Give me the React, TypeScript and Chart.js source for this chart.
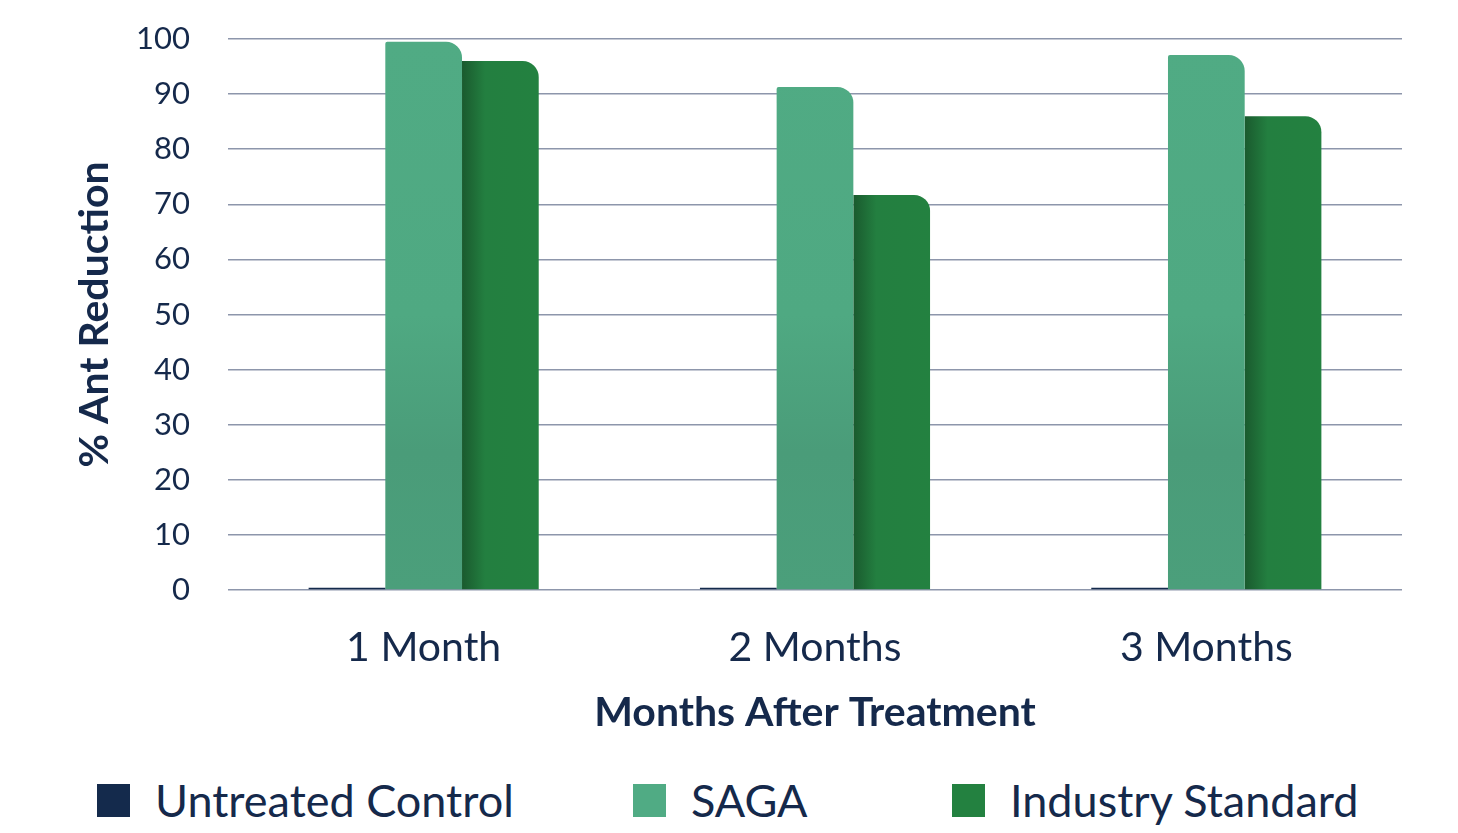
import React, { useEffect, useRef } from 'react';
import { Chart, registerables } from 'chart.js';

Chart.register(...registerables);

const categories = ['1 Month', '2 Months', '3 Months'];
const seriesNames = ['Untreated Control', 'SAGA', 'Industry Standard'];
const untreatedValues = [0.4, 0.4, 0.4];
const sagaValues = [99.5, 91.3, 97.1];
const industryValues = [96.0, 71.7, 86.0];

const FONT = 'Lato, "Noto Sans", sans-serif';
const TEXT = '#15294b';
const COLORS = ['#142a4c', '#50ab84', '#238140'];
const CAT_PCT = 0.588;

// horizontal shade for industry bars: darker at left edge
function industryFill(ctx: any) {
  const chart = ctx.chart;
  const x = chart.scales.x;
  if (!x || ctx.dataIndex === undefined || !chart.chartArea) return COLORS[2];
  const catW = x.width / categories.length;
  const barW = (catW * CAT_PCT) / 3;
  const center = x.getPixelForValue(ctx.dataIndex);
  const left = center - (catW * CAT_PCT) / 2 + 2 * barW;
  const g = chart.ctx.createLinearGradient(left, 0, left + barW, 0);
  g.addColorStop(0, '#1a5a2e');
  g.addColorStop(0.3, '#237f40');
  g.addColorStop(1, '#238140');
  return g;
}

function sagaFill(ctx: any) {
  const area = ctx.chart.chartArea;
  if (!area) return COLORS[1];
  const g = ctx.chart.ctx.createLinearGradient(0, area.top, 0, area.bottom);
  g.addColorStop(0, '#50ab84');
  g.addColorStop(0.5, '#4fa982');
  g.addColorStop(0.75, '#4a9c79');
  g.addColorStop(1, '#4b9f7b');
  return g;
}

// legend item left edges (px)
const legendLefts = [97, 633, 952];

export default function App() {
  const canvasRef = useRef<HTMLCanvasElement>(null);

  useEffect(() => {
    if (!canvasRef.current) return;
    const chart = new Chart(canvasRef.current, {
      type: 'bar',
      data: {
        labels: categories,
        datasets: [
          {
            label: seriesNames[0],
            data: untreatedValues,
            backgroundColor: COLORS[0],
          },
          {
            label: seriesNames[1],
            data: sagaValues,
            backgroundColor: sagaFill,
            borderRadius: { topLeft: 2, topRight: 16, bottomLeft: 0, bottomRight: 0 },
            borderSkipped: false,
          },
          {
            label: seriesNames[2],
            data: industryValues,
            backgroundColor: industryFill,
            borderRadius: { topLeft: 0, topRight: 16, bottomLeft: 0, bottomRight: 0 },
            borderSkipped: false,
          },
        ],
      },
      options: {
        animation: false,
        responsive: true,
        maintainAspectRatio: false,
        datasets: {
          bar: { categoryPercentage: CAT_PCT, barPercentage: 1 },
        },
        layout: { padding: { top: 0, right: 56, left: 0, bottom: 0 } },
        scales: {
          x: {
            grid: { display: false, drawTicks: false },
            border: { display: false },
            ticks: {
              color: TEXT,
              font: { family: FONT, size: 41 },
              padding: 33,
            },
            title: {
              display: true,
              text: 'Months After Treatment',
              color: TEXT,
              font: { family: FONT, size: 41, weight: 'bold' },
              padding: { top: 10, bottom: 23 },
            },
            afterFit: (s: any) => {
              s.height = 170;
            },
          },
          y: {
            min: 0,
            max: 100,
            ticks: {
              stepSize: 10,
              autoSkip: false,
              color: TEXT,
              font: { family: FONT, size: 31 },
              padding: 38,
            },
            grid: { color: '#8d96ab', lineWidth: 1.5, drawTicks: false },
            border: { display: false },
            title: {
              display: true,
              text: '% Ant Reduction',
              color: TEXT,
              font: { family: FONT, size: 41, weight: 'bold' },
              padding: { top: 70, bottom: 0 },
            },
            afterFit: (s: any) => {
              s.width = 228;
              s.paddingTop = 39;
            },
          },
        },
        plugins: {
          legend: { display: false },
          tooltip: { enabled: false },
        },
      },
    });
    return () => chart.destroy();
  }, []);

  return (
    <div style={{ position: 'fixed', left: 0, top: 0, width: 1458, height: 833, background: '#ffffff' }}>
      <div style={{ position: 'relative', width: 1458, height: 760 }}>
        <canvas ref={canvasRef}></canvas>
      </div>
      <div style={{ position: 'relative', width: 1458, height: 73, fontFamily: FONT, fontSize: 45, color: TEXT }}>
        {seriesNames.map((name, i) => (
          <div
            key={name}
            style={{ position: 'absolute', left: legendLefts[i], top: 10, height: 60, display: 'flex', alignItems: 'center', whiteSpace: 'nowrap' }}
          >
            <span style={{ display: 'inline-block', width: 33, height: 33, background: COLORS[i], marginRight: 25 }}></span>
            <span>{name}</span>
          </div>
        ))}
      </div>
    </div>
  );
}
